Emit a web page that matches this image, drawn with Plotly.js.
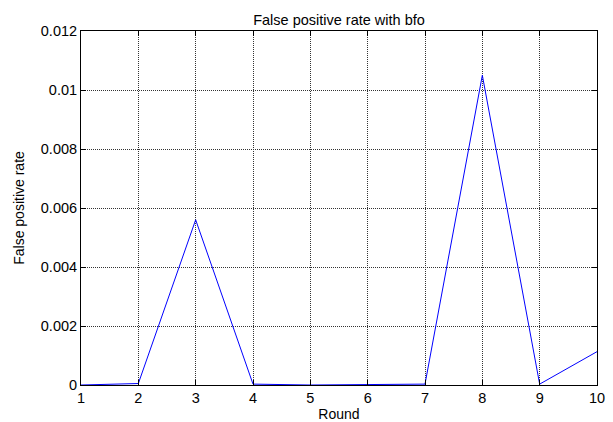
<!DOCTYPE html>
<html>
<head>
<meta charset="utf-8">
<script src="https://cdn.plot.ly/plotly-3.0.1.min.js"></script>
<style>html,body{margin:0;padding:0;background:#fff;}#chart{width:613px;height:422px;}</style>
</head>
<body>
<div id="chart"></div>
<script>
var rounds = [1, 2, 3, 4, 5, 6, 7, 8, 9, 10];
var fpRate = [0, 0.00005, 0.0056, 0.00003, 0, 0.00002, 0.00003, 0.0105, 0.00003, 0.00113];
var yTickVals = [0, 0.002, 0.004, 0.006, 0.008, 0.01, 0.012];
var yTickText = ["0", "0.002", "0.004", "0.006", "0.008", "0.01", "0.012"];
var xTickVals = [1, 2, 3, 4, 5, 6, 7, 8, 9, 10];

var fam = "Liberation Sans, Arial, sans-serif";
var tickFont = {family: fam, size: 14.5, color: "#000"};
var labFont = {family: fam, size: 14, color: "#000"};

var trace = {
  x: rounds, y: fpRate, type: "scatter", mode: "lines",
  line: {color: "#0000ff", width: 1}, hoverinfo: "skip"
};

var layout = {
  width: 613, height: 422,
  margin: {l: 81, r: 16, t: 31, b: 37, pad: 0},
  paper_bgcolor: "#fff", plot_bgcolor: "#fff",
  showlegend: false,
  font: labFont,
  title: {text: "False positive rate with bfo", font: {family: fam, size: 14.5, color: "#000"}, x: 0.553, xanchor: "center", y: 0.952, yanchor: "middle"},
  xaxis: {
    range: [1, 10], tickvals: xTickVals, ticks: "inside", ticklen: 5, tickcolor: "#000",
    showline: true, linecolor: "#000", linewidth: 1, mirror: "ticks",
    showgrid: true, gridcolor: "#333", griddash: "1px,1px", gridwidth: 1,
    zeroline: false, tickfont: tickFont,
    title: {text: "Round", font: labFont, standoff: 5}
  },
  yaxis: {
    range: [0, 0.012], tickvals: yTickVals, ticktext: yTickText, ticks: "inside", ticklen: 5, tickcolor: "#000",
    showline: true, linecolor: "#000", linewidth: 1, mirror: "ticks",
    showgrid: true, gridcolor: "#333", griddash: "1px,1px", gridwidth: 1,
    zeroline: false, tickfont: tickFont,
    title: {text: "False positive rate", font: labFont, standoff: 12}
  }
};

Plotly.newPlot("chart", [trace], layout, {staticPlot: true, displayModeBar: false});
</script>
</body>
</html>
